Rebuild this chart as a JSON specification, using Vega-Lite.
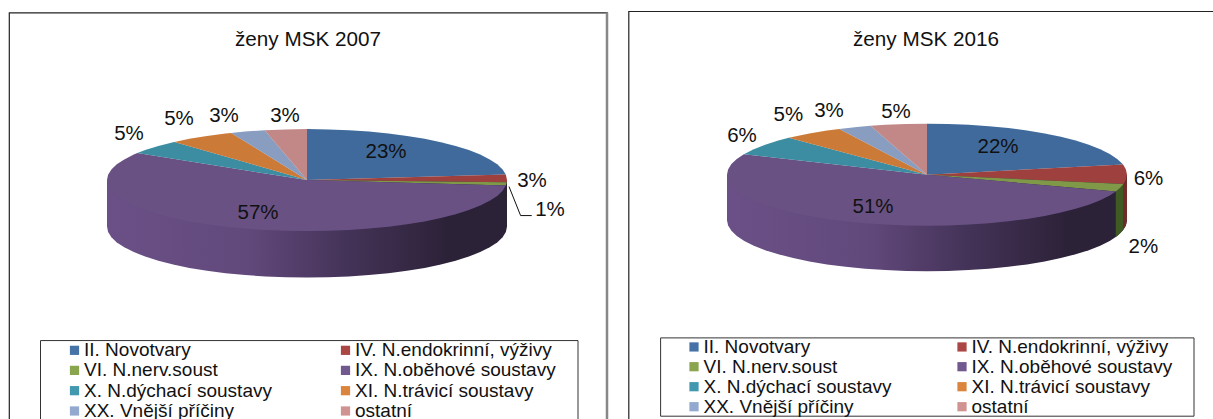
{"$schema":"https://vega.github.io/schema/vega-lite/v6.json","background":"white","padding":{"left":8,"top":10,"right":0,"bottom":0},"spacing":18.5,"center":true,
"resolve":{"scale":{"fill":"independent"},"legend":{"fill":"independent"}},
"config":{"view":{"stroke":"#222","strokeWidth":1.2},"font":"Liberation Sans","legend":{"symbolType":"square","symbolSize":85,"symbolStrokeWidth":0,"labelFontSize":19,"labelFont":"Liberation Sans","labelLimit":400,"labelOffset":0,"labelColor":"#111","title":null,"orient":"none","direction":"horizontal","columns":2,"gridAlign":"all","padding":0},"title":{"font":"Liberation Sans","fontSize":20.7,"fontWeight":"normal","color":"#111","anchor":"middle","frame":"group","baseline":"alphabetic","offset":-39}},
"datasets":{
"top07":[
{"slice":"II. Novotvary","i":0,"u":0,"v":0},{"slice":"II. Novotvary","i":1,"u":0,"v":-51},{"slice":"II. Novotvary","i":2,"u":20.9,"v":-50.7},{"slice":"II. Novotvary","i":3,"u":41.6,"v":-49.9},{"slice":"II. Novotvary","i":4,"u":61.8,"v":-48.5},{"slice":"II. Novotvary","i":5,"u":81.3,"v":-46.6},{"slice":"II. Novotvary","i":6,"u":100,"v":-44.2},{"slice":"II. Novotvary","i":7,"u":117.6,"v":-41.3},{"slice":"II. Novotvary","i":8,"u":133.8,"v":-37.9},{"slice":"II. Novotvary","i":9,"u":148.6,"v":-34.1},{"slice":"II. Novotvary","i":10,"u":161.8,"v":-30},{"slice":"II. Novotvary","i":11,"u":173.2,"v":-25.5},{"slice":"II. Novotvary","i":12,"u":182.7,"v":-20.7},{"slice":"II. Novotvary","i":13,"u":190.2,"v":-15.8},{"slice":"II. Novotvary","i":14,"u":195.6,"v":-10.6},{"slice":"II. Novotvary","i":15,"u":198.8,"v":-5.5},
{"slice":"IV. N.endokrinní, výživy","i":0,"u":0,"v":0},{"slice":"IV. N.endokrinní, výživy","i":1,"u":198.8,"v":-5.5},{"slice":"IV. N.endokrinní, výživy","i":2,"u":200,"v":0},{"slice":"IV. N.endokrinní, výživy","i":3,"u":199.8,"v":2.2},
{"slice":"VI. N.nerv.soust","i":0,"u":0,"v":0},{"slice":"VI. N.nerv.soust","i":1,"u":199.8,"v":2.2},{"slice":"VI. N.nerv.soust","i":2,"u":198.8,"v":5.5},
{"slice":"IX. N.oběhové soustavy","i":0,"u":0,"v":0},{"slice":"IX. N.oběhové soustavy","i":1,"u":198.8,"v":5.5},{"slice":"IX. N.oběhové soustavy","i":2,"u":195.6,"v":10.6},{"slice":"IX. N.oběhové soustavy","i":3,"u":190.2,"v":15.8},{"slice":"IX. N.oběhové soustavy","i":4,"u":182.7,"v":20.7},{"slice":"IX. N.oběhové soustavy","i":5,"u":173.2,"v":25.5},{"slice":"IX. N.oběhové soustavy","i":6,"u":161.8,"v":30},{"slice":"IX. N.oběhové soustavy","i":7,"u":148.6,"v":34.1},{"slice":"IX. N.oběhové soustavy","i":8,"u":133.8,"v":37.9},{"slice":"IX. N.oběhové soustavy","i":9,"u":117.6,"v":41.3},{"slice":"IX. N.oběhové soustavy","i":10,"u":100,"v":44.2},{"slice":"IX. N.oběhové soustavy","i":11,"u":81.3,"v":46.6},{"slice":"IX. N.oběhové soustavy","i":12,"u":61.8,"v":48.5},{"slice":"IX. N.oběhové soustavy","i":13,"u":41.6,"v":49.9},{"slice":"IX. N.oběhové soustavy","i":14,"u":20.9,"v":50.7},{"slice":"IX. N.oběhové soustavy","i":15,"u":0,"v":51},{"slice":"IX. N.oběhové soustavy","i":16,"u":-20.9,"v":50.7},{"slice":"IX. N.oběhové soustavy","i":17,"u":-41.6,"v":49.9},{"slice":"IX. N.oběhové soustavy","i":18,"u":-61.8,"v":48.5},{"slice":"IX. N.oběhové soustavy","i":19,"u":-81.3,"v":46.6},{"slice":"IX. N.oběhové soustavy","i":20,"u":-100,"v":44.2},{"slice":"IX. N.oběhové soustavy","i":21,"u":-117.6,"v":41.3},{"slice":"IX. N.oběhové soustavy","i":22,"u":-133.8,"v":37.9},{"slice":"IX. N.oběhové soustavy","i":23,"u":-148.6,"v":34.1},{"slice":"IX. N.oběhové soustavy","i":24,"u":-161.8,"v":30},{"slice":"IX. N.oběhové soustavy","i":25,"u":-173.2,"v":25.5},{"slice":"IX. N.oběhové soustavy","i":26,"u":-182.7,"v":20.7},{"slice":"IX. N.oběhové soustavy","i":27,"u":-190.2,"v":15.8},{"slice":"IX. N.oběhové soustavy","i":28,"u":-195.6,"v":10.6},{"slice":"IX. N.oběhové soustavy","i":29,"u":-198.9,"v":5.3},{"slice":"IX. N.oběhové soustavy","i":30,"u":-200,"v":0},{"slice":"IX. N.oběhové soustavy","i":31,"u":-198.9,"v":-5.3},{"slice":"IX. N.oběhové soustavy","i":32,"u":-195.6,"v":-10.6},{"slice":"IX. N.oběhové soustavy","i":33,"u":-190.2,"v":-15.8},{"slice":"IX. N.oběhové soustavy","i":34,"u":-182.7,"v":-20.7},{"slice":"IX. N.oběhové soustavy","i":35,"u":-173.2,"v":-25.5},{"slice":"IX. N.oběhové soustavy","i":36,"u":-169.6,"v":-27},
{"slice":"X. N.dýchací soustavy","i":0,"u":0,"v":0},{"slice":"X. N.dýchací soustavy","i":1,"u":-169.6,"v":-27},{"slice":"X. N.dýchací soustavy","i":2,"u":-161.8,"v":-30},{"slice":"X. N.dýchací soustavy","i":3,"u":-148.6,"v":-34.1},{"slice":"X. N.dýchací soustavy","i":4,"u":-133.8,"v":-37.9},{"slice":"X. N.dýchací soustavy","i":5,"u":-132.5,"v":-38.2},
{"slice":"XI. N.trávicí soustavy","i":0,"u":0,"v":0},{"slice":"XI. N.trávicí soustavy","i":1,"u":-132.5,"v":-38.2},{"slice":"XI. N.trávicí soustavy","i":2,"u":-117.6,"v":-41.3},{"slice":"XI. N.trávicí soustavy","i":3,"u":-100,"v":-44.2},{"slice":"XI. N.trávicí soustavy","i":4,"u":-81.3,"v":-46.6},{"slice":"XI. N.trávicí soustavy","i":5,"u":-75.9,"v":-47.2},
{"slice":"XX. Vnější příčiny","i":0,"u":0,"v":0},{"slice":"XX. Vnější příčiny","i":1,"u":-75.9,"v":-47.2},{"slice":"XX. Vnější příčiny","i":2,"u":-61.8,"v":-48.5},{"slice":"XX. Vnější příčiny","i":3,"u":-42.3,"v":-49.8},
{"slice":"ostatní","i":0,"u":0,"v":0},{"slice":"ostatní","i":1,"u":-42.3,"v":-49.8},{"slice":"ostatní","i":2,"u":-20.9,"v":-50.7},{"slice":"ostatní","i":3,"u":0,"v":-51}],
"top16":[
{"slice":"II. Novotvary","i":0,"u":0,"v":0},{"slice":"II. Novotvary","i":1,"u":0,"v":-51},{"slice":"II. Novotvary","i":2,"u":20.9,"v":-50.7},{"slice":"II. Novotvary","i":3,"u":41.6,"v":-49.9},{"slice":"II. Novotvary","i":4,"u":61.8,"v":-48.5},{"slice":"II. Novotvary","i":5,"u":81.3,"v":-46.6},{"slice":"II. Novotvary","i":6,"u":100,"v":-44.2},{"slice":"II. Novotvary","i":7,"u":117.6,"v":-41.3},{"slice":"II. Novotvary","i":8,"u":133.8,"v":-37.9},{"slice":"II. Novotvary","i":9,"u":148.6,"v":-34.1},{"slice":"II. Novotvary","i":10,"u":161.8,"v":-30},{"slice":"II. Novotvary","i":11,"u":173.2,"v":-25.5},{"slice":"II. Novotvary","i":12,"u":182.7,"v":-20.7},{"slice":"II. Novotvary","i":13,"u":190.2,"v":-15.8},{"slice":"II. Novotvary","i":14,"u":195.6,"v":-10.6},{"slice":"II. Novotvary","i":15,"u":196.1,"v":-10.1},
{"slice":"IV. N.endokrinní, výživy","i":0,"u":0,"v":0},{"slice":"IV. N.endokrinní, výživy","i":1,"u":196.1,"v":-10.1},{"slice":"IV. N.endokrinní, výživy","i":2,"u":198.9,"v":-5.3},{"slice":"IV. N.endokrinní, výživy","i":3,"u":200,"v":0},{"slice":"IV. N.endokrinní, výživy","i":4,"u":198.9,"v":5.3},{"slice":"IV. N.endokrinní, výživy","i":5,"u":196.5,"v":9.4},
{"slice":"VI. N.nerv.soust","i":0,"u":0,"v":0},{"slice":"VI. N.nerv.soust","i":1,"u":196.5,"v":9.4},{"slice":"VI. N.nerv.soust","i":2,"u":193,"v":13.2},{"slice":"VI. N.nerv.soust","i":3,"u":188.8,"v":16.9},
{"slice":"IX. N.oběhové soustavy","i":0,"u":0,"v":0},{"slice":"IX. N.oběhové soustavy","i":1,"u":188.8,"v":16.9},{"slice":"IX. N.oběhové soustavy","i":2,"u":182.7,"v":20.7},{"slice":"IX. N.oběhové soustavy","i":3,"u":173.2,"v":25.5},{"slice":"IX. N.oběhové soustavy","i":4,"u":161.8,"v":30},{"slice":"IX. N.oběhové soustavy","i":5,"u":148.6,"v":34.1},{"slice":"IX. N.oběhové soustavy","i":6,"u":133.8,"v":37.9},{"slice":"IX. N.oběhové soustavy","i":7,"u":117.6,"v":41.3},{"slice":"IX. N.oběhové soustavy","i":8,"u":100,"v":44.2},{"slice":"IX. N.oběhové soustavy","i":9,"u":81.3,"v":46.6},{"slice":"IX. N.oběhové soustavy","i":10,"u":61.8,"v":48.5},{"slice":"IX. N.oběhové soustavy","i":11,"u":41.6,"v":49.9},{"slice":"IX. N.oběhové soustavy","i":12,"u":20.9,"v":50.7},{"slice":"IX. N.oběhové soustavy","i":13,"u":0,"v":51},{"slice":"IX. N.oběhové soustavy","i":14,"u":-20.9,"v":50.7},{"slice":"IX. N.oběhové soustavy","i":15,"u":-41.6,"v":49.9},{"slice":"IX. N.oběhové soustavy","i":16,"u":-61.8,"v":48.5},{"slice":"IX. N.oběhové soustavy","i":17,"u":-81.3,"v":46.6},{"slice":"IX. N.oběhové soustavy","i":18,"u":-100,"v":44.2},{"slice":"IX. N.oběhové soustavy","i":19,"u":-117.6,"v":41.3},{"slice":"IX. N.oběhové soustavy","i":20,"u":-133.8,"v":37.9},{"slice":"IX. N.oběhové soustavy","i":21,"u":-148.6,"v":34.1},{"slice":"IX. N.oběhové soustavy","i":22,"u":-161.8,"v":30},{"slice":"IX. N.oběhové soustavy","i":23,"u":-173.2,"v":25.5},{"slice":"IX. N.oběhové soustavy","i":24,"u":-182.7,"v":20.7},{"slice":"IX. N.oběhové soustavy","i":25,"u":-190.2,"v":15.8},{"slice":"IX. N.oběhové soustavy","i":26,"u":-195.6,"v":10.6},{"slice":"IX. N.oběhové soustavy","i":27,"u":-198.9,"v":5.3},{"slice":"IX. N.oběhové soustavy","i":28,"u":-200,"v":0},{"slice":"IX. N.oběhové soustavy","i":29,"u":-198.9,"v":-5.3},{"slice":"IX. N.oběhové soustavy","i":30,"u":-195.6,"v":-10.6},{"slice":"IX. N.oběhové soustavy","i":31,"u":-190.2,"v":-15.8},{"slice":"IX. N.oběhové soustavy","i":32,"u":-183.1,"v":-20.5},
{"slice":"X. N.dýchací soustavy","i":0,"u":0,"v":0},{"slice":"X. N.dýchací soustavy","i":1,"u":-183.1,"v":-20.5},{"slice":"X. N.dýchací soustavy","i":2,"u":-173.2,"v":-25.5},{"slice":"X. N.dýchací soustavy","i":3,"u":-161.8,"v":-30},{"slice":"X. N.dýchací soustavy","i":4,"u":-148.6,"v":-34.1},{"slice":"X. N.dýchací soustavy","i":5,"u":-138.2,"v":-36.9},
{"slice":"XI. N.trávicí soustavy","i":0,"u":0,"v":0},{"slice":"XI. N.trávicí soustavy","i":1,"u":-138.2,"v":-36.9},{"slice":"XI. N.trávicí soustavy","i":2,"u":-117.6,"v":-41.3},{"slice":"XI. N.trávicí soustavy","i":3,"u":-100,"v":-44.2},{"slice":"XI. N.trávicí soustavy","i":4,"u":-87.7,"v":-45.8},
{"slice":"XX. Vnější příčiny","i":0,"u":0,"v":0},{"slice":"XX. Vnější příčiny","i":1,"u":-87.7,"v":-45.8},{"slice":"XX. Vnější příčiny","i":2,"u":-70,"v":-47.8},{"slice":"XX. Vnější příčiny","i":3,"u":-56.5,"v":-48.9},
{"slice":"ostatní","i":0,"u":0,"v":0},{"slice":"ostatní","i":1,"u":-56.5,"v":-48.9},{"slice":"ostatní","i":2,"u":-41.6,"v":-49.9},{"slice":"ostatní","i":3,"u":-20.9,"v":-50.7},{"slice":"ostatní","i":4,"u":0,"v":-51}],
"side07":[
{"i":0,"u":-200,"v":0},{"i":1,"u":-200,"v":46.5},{"i":2,"u":-198.9,"v":51.8},{"i":3,"u":-195.6,"v":57.1},{"i":4,"u":-190.2,"v":62.3},{"i":5,"u":-182.7,"v":67.2},{"i":6,"u":-173.2,"v":72},{"i":7,"u":-161.8,"v":76.5},{"i":8,"u":-148.6,"v":80.6},{"i":9,"u":-133.8,"v":84.4},{"i":10,"u":-117.6,"v":87.8},{"i":11,"u":-100,"v":90.7},{"i":12,"u":-81.3,"v":93.1},{"i":13,"u":-61.8,"v":95},{"i":14,"u":-41.6,"v":96.4},{"i":15,"u":-20.9,"v":97.2},{"i":16,"u":0,"v":97.5},{"i":17,"u":20.9,"v":97.2},{"i":18,"u":41.6,"v":96.4},{"i":19,"u":61.8,"v":95},{"i":20,"u":81.3,"v":93.1},{"i":21,"u":100,"v":90.7},{"i":22,"u":117.6,"v":87.8},{"i":23,"u":133.8,"v":84.4},{"i":24,"u":148.6,"v":80.6},{"i":25,"u":161.8,"v":76.5},{"i":26,"u":173.2,"v":72},{"i":27,"u":182.7,"v":67.2},{"i":28,"u":190.2,"v":62.3},{"i":29,"u":195.6,"v":57.1},{"i":30,"u":198.9,"v":51.8},{"i":31,"u":200,"v":46.5},{"i":32,"u":200,"v":0}],
"side16":[
{"i":0,"u":-200,"v":0},{"i":1,"u":-200,"v":45.5},{"i":2,"u":-198.9,"v":50.8},{"i":3,"u":-195.6,"v":56.1},{"i":4,"u":-190.2,"v":61.3},{"i":5,"u":-182.7,"v":66.2},{"i":6,"u":-173.2,"v":71},{"i":7,"u":-161.8,"v":75.5},{"i":8,"u":-148.6,"v":79.6},{"i":9,"u":-133.8,"v":83.4},{"i":10,"u":-117.6,"v":86.8},{"i":11,"u":-100,"v":89.7},{"i":12,"u":-81.3,"v":92.1},{"i":13,"u":-61.8,"v":94},{"i":14,"u":-41.6,"v":95.4},{"i":15,"u":-20.9,"v":96.2},{"i":16,"u":0,"v":96.5},{"i":17,"u":20.9,"v":96.2},{"i":18,"u":41.6,"v":95.4},{"i":19,"u":61.8,"v":94},{"i":20,"u":81.3,"v":92.1},{"i":21,"u":100,"v":89.7},{"i":22,"u":117.6,"v":86.8},{"i":23,"u":133.8,"v":83.4},{"i":24,"u":148.6,"v":79.6},{"i":25,"u":161.8,"v":75.5},{"i":26,"u":173.2,"v":71},{"i":27,"u":182.7,"v":66.2},{"i":28,"u":190.2,"v":61.3},{"i":29,"u":195.6,"v":56.1},{"i":30,"u":198.9,"v":50.8},{"i":31,"u":200,"v":45.5},{"i":32,"u":200,"v":0}],
"sideRed16":[{"i":0,"u":200,"v":0},{"i":1,"u":198.9,"v":5.3},{"i":2,"u":196.5,"v":9.4},{"i":3,"u":196.5,"v":54.9},{"i":4,"u":198.9,"v":50.8},{"i":5,"u":200,"v":45.5}],
"sideGreen16":[{"i":0,"u":196.5,"v":9.4},{"i":1,"u":193,"v":13.2},{"i":2,"u":188.8,"v":16.9},{"i":3,"u":188.8,"v":62.4},{"i":4,"u":193,"v":58.7},{"i":5,"u":196.5,"v":54.9}],
"labels07":[{"t":"23%","u":79,"v":-28},{"t":"3%","u":225,"v":0.5},{"t":"1%","u":243,"v":30},{"t":"57%","u":-49,"v":32.5},{"t":"5%","u":-178,"v":-46},{"t":"5%","u":-128,"v":-61},{"t":"3%","u":-83,"v":-64},{"t":"3%","u":-22,"v":-64}],
"labels16":[{"t":"22%","u":71,"v":-27.6},{"t":"6%","u":221.5,"v":4},{"t":"2%","u":216.4,"v":72.7},{"t":"51%","u":-54,"v":32.4},{"t":"6%","u":-185,"v":-39},{"t":"5%","u":-138.6,"v":-59.6},{"t":"3%","u":-98,"v":-63.3},{"t":"5%","u":-31,"v":-63}],
"leader07":[{"i":0,"u":202,"v":6.5},{"i":1,"u":213.6,"v":35.5},{"i":2,"u":224.7,"v":35.5}]
},
"hconcat":[
{"width":598,"height":418,"title":"ženy MSK 2007",
"encoding":{"x":{"field":"u","type":"quantitative","axis":null,"scale":{"domain":[-298,300],"nice":false,"zero":false}},"y":{"field":"v","type":"quantitative","axis":null,"scale":{"domain":[-167.5,250.5],"nice":false,"zero":false,"reverse":true}}},
"layer":[
{"data":{"name":"side07"},"mark":{"type":"line","strokeWidth":0,"fill":{"gradient":"linear","x1":0,"x2":1,"y1":0,"y2":0,"stops":[{"offset":0,"color":"#6a5086"},{"offset":0.35,"color":"#62497c"},{"offset":0.6,"color":"#443358"},{"offset":0.85,"color":"#2c2238"},{"offset":1,"color":"#2c2238"}]}},"encoding":{"order":{"field":"i","type":"quantitative"}}},
{"data":{"name":"top07"},"mark":{"type":"line","strokeWidth":0},"encoding":{"order":{"field":"i","type":"quantitative"},"fill":{"field":"slice","type":"nominal","sort":null,"scale":{"domain":["II. Novotvary","IV. N.endokrinní, výživy","VI. N.nerv.soust","IX. N.oběhové soustavy","X. N.dýchací soustavy","XI. N.trávicí soustavy","XX. Vnější příčiny","ostatní"],"range":["#4573a7","#aa4643","#89a54e","#71588f","#4198af","#db843d","#93a9cf","#d19392"]},"legend":{"legendX":56,"legendY":328,"columnPadding":51,"rowPadding":0.3}}}},
{"data":{"name":"top07"},"mark":{"type":"line","strokeWidth":0,"fill":"#000","opacity":0.07},"encoding":{"order":{"field":"i","type":"quantitative"},"detail":{"field":"slice"}}},
{"data":{"name":"leader07"},"mark":{"type":"line","color":"#111","strokeWidth":1},"encoding":{"order":{"field":"i","type":"quantitative"}}},
{"data":{"name":"labels07"},"mark":{"type":"text","fontSize":20.5,"font":"Liberation Sans","color":"#111"},"encoding":{"text":{"field":"t"}}},
{"data":{"values":[{"u0":-266.5,"u1":271,"v0":160.5,"v1":250}]},"mark":{"type":"rect","fillOpacity":0,"stroke":"#333","strokeWidth":1},"encoding":{"x":{"field":"u0","type":"quantitative"},"x2":{"field":"u1"},"y":{"field":"v0","type":"quantitative"},"y2":{"field":"v1"}}},
{"data":{"values":[{"u":300}]},"mark":{"type":"rule","color":"#888","strokeWidth":2.5},"encoding":{"x":{"field":"u","type":"quantitative"},"y":null}}
]},
{"width":595,"height":422,"title":"ženy MSK 2016",
"encoding":{"x":{"field":"u","type":"quantitative","axis":null,"scale":{"domain":[-298.5,296.5],"nice":false,"zero":false}},"y":{"field":"v","type":"quantitative","axis":null,"scale":{"domain":[-163.5,258.5],"nice":false,"zero":false,"reverse":true}}},
"layer":[
{"data":{"name":"side16"},"mark":{"type":"line","strokeWidth":0,"fill":{"gradient":"linear","x1":0,"x2":1,"y1":0,"y2":0,"stops":[{"offset":0,"color":"#6a5086"},{"offset":0.35,"color":"#62497c"},{"offset":0.6,"color":"#443358"},{"offset":0.85,"color":"#2c2238"},{"offset":1,"color":"#2c2238"}]}},"encoding":{"order":{"field":"i","type":"quantitative"}}},
{"data":{"name":"sideRed16"},"mark":{"type":"line","strokeWidth":0,"fill":"#6e2c2a"},"encoding":{"order":{"field":"i","type":"quantitative"}}},
{"data":{"name":"sideGreen16"},"mark":{"type":"line","strokeWidth":0,"fill":"#3f5a23"},"encoding":{"order":{"field":"i","type":"quantitative"}}},
{"data":{"name":"top16"},"mark":{"type":"line","strokeWidth":0},"encoding":{"order":{"field":"i","type":"quantitative"},"fill":{"field":"slice","type":"nominal","sort":null,"scale":{"domain":["II. Novotvary","IV. N.endokrinní, výživy","VI. N.nerv.soust","IX. N.oběhové soustavy","X. N.dýchací soustavy","XI. N.trávicí soustavy","XX. Vnější příčiny","ostatní"],"range":["#4573a7","#aa4643","#89a54e","#71588f","#4198af","#db843d","#93a9cf","#d19392"]},"legend":{"legendX":56,"legendY":326,"columnPadding":48,"rowPadding":-0.4}}}},
{"data":{"name":"top16"},"mark":{"type":"line","strokeWidth":0,"fill":"#000","opacity":0.07},"encoding":{"order":{"field":"i","type":"quantitative"},"detail":{"field":"slice"}}},
{"data":{"name":"labels16"},"mark":{"type":"text","fontSize":20.5,"font":"Liberation Sans","color":"#111"},"encoding":{"text":{"field":"t"}}},
{"data":{"values":[{"u0":-266.4,"u1":267,"v0":163.2,"v1":241.5}]},"mark":{"type":"rect","fillOpacity":0,"stroke":"#333","strokeWidth":1},"encoding":{"x":{"field":"u0","type":"quantitative"},"x2":{"field":"u1"},"y":{"field":"v0","type":"quantitative"},"y2":{"field":"v1"}}}
]}
]}
